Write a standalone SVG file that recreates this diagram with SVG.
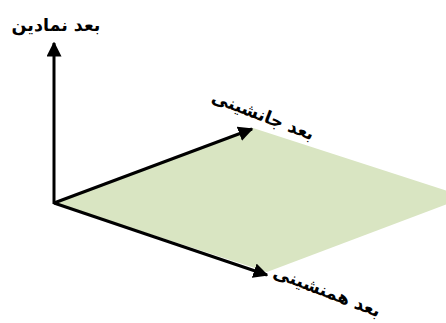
<svg xmlns="http://www.w3.org/2000/svg" width="446" height="323" viewBox="0 0 446 323">
<style>
.ax{stroke:#000;stroke-width:3;fill:none}
.lbl{font-family:"DejaVu Sans",sans-serif;font-weight:bold;font-size:17.5px;fill:#000;text-anchor:middle}
</style>
<defs>
<marker id="ah" viewBox="0 0 10 10" refX="9" refY="5" markerWidth="5" markerHeight="5" orient="auto" markerUnits="strokeWidth">
<path d="M0,0 L10,5 L0,10 z" fill="#000"/>
</marker>
</defs>
<rect width="446" height="323" fill="#fff"/>
<g id="plane"><polygon points="54,203 253,128 466,197 267,272" fill="#D9E5C2"/></g>
<g id="connectors">
<line class="ax" x1="54" y1="204" x2="54" y2="43" marker-end="url(#ah)"/>
<line class="ax" x1="54" y1="203" x2="252" y2="129" marker-end="url(#ah)"/>
<line class="ax" x1="54" y1="203" x2="267" y2="275" marker-end="url(#ah)"/>
</g>
<g id="label-symbolic"><text class="lbl" x="56" y="31">بعد نمادین</text></g>
<g id="label-paradigmatic"><text class="lbl" transform="translate(261,121) rotate(21)">بعد جانشینی</text></g>
<g id="label-syntagmatic"><text class="lbl" transform="translate(325,297) rotate(21)">بعد همنشینی</text></g>
</svg>
